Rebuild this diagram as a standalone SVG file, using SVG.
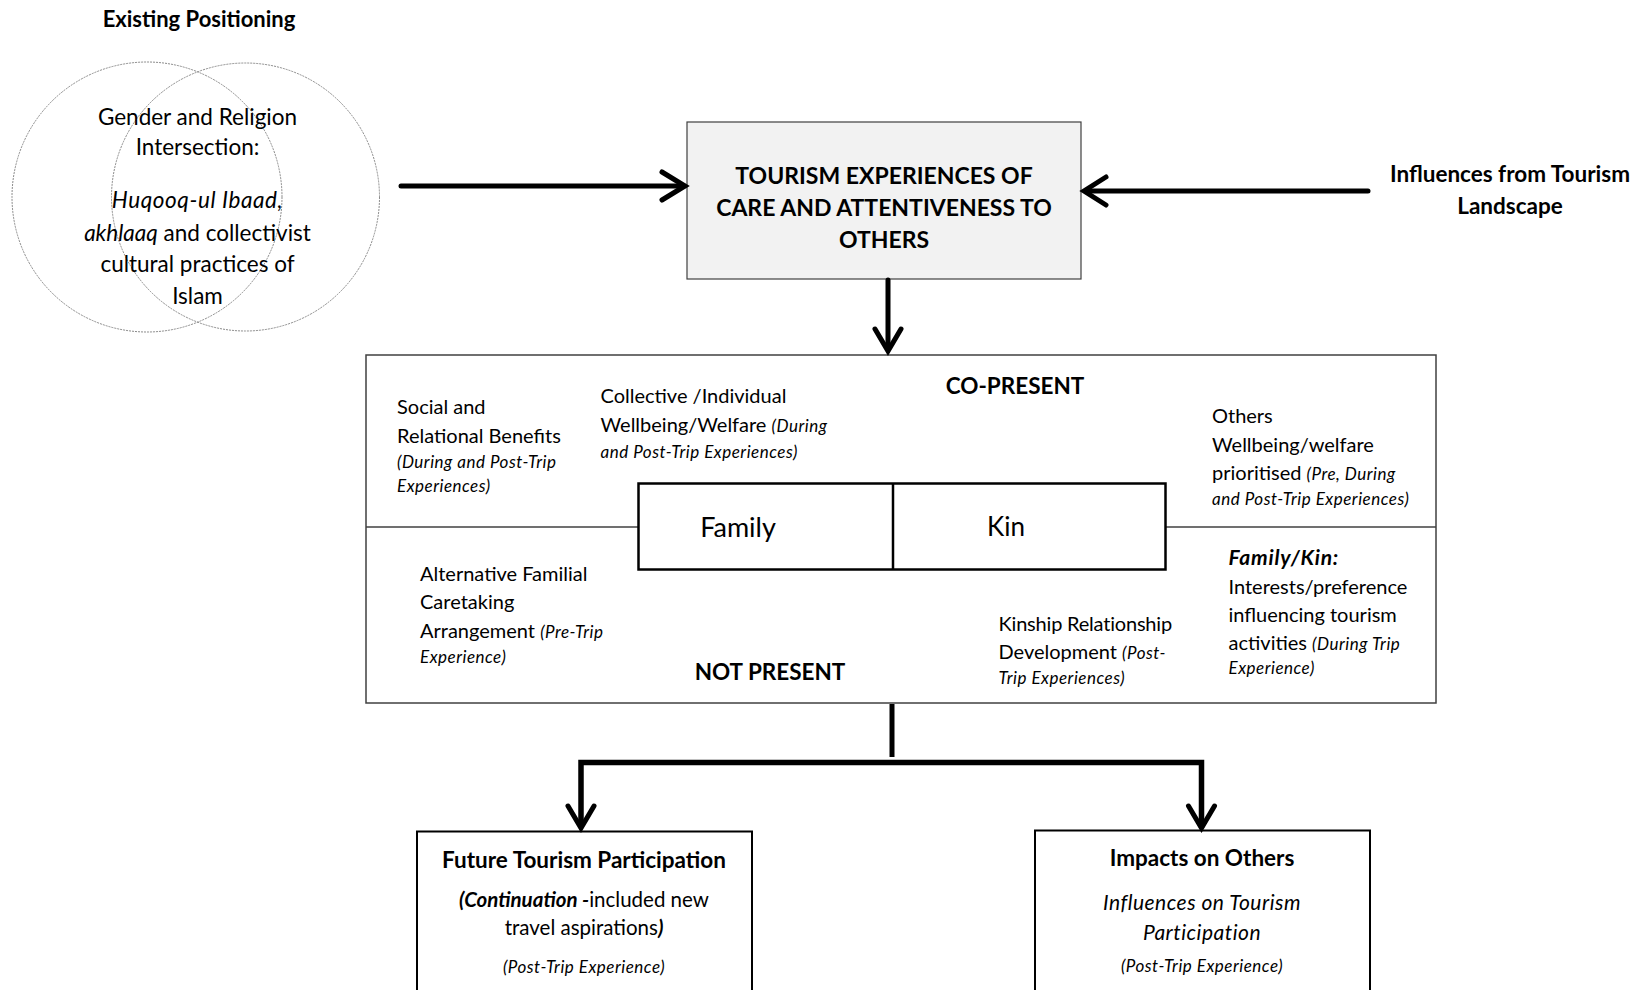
<svg xmlns="http://www.w3.org/2000/svg" width="1638" height="990" viewBox="0 0 1638 990">
  <style>
    text { font-family: Lato, "Liberation Sans", sans-serif; fill: #000; }
    .b { font-weight: bold; }
    .i { font-style: italic; }
    .c { text-anchor: middle; }
    .s22 { font-size: 22.5px; }
    .s20 { font-size: 20px; }
    .sm { font-size: 17px; font-style: italic; letter-spacing: 0.5px; }
    .conn { fill: none; stroke: #000; stroke-width: 5; stroke-linecap: round; stroke-linejoin: round; }
    .head { fill: none; stroke: #000; stroke-width: 5; stroke-linecap: round; stroke-linejoin: miter; }
  </style>

  <rect width="1638" height="990" fill="#fff"/>

  <!-- Existing positioning: overlapping circles -->
  <g id="existing-positioning">
    <text class="b c" x="199" y="27" font-size="22">Existing Positioning</text>
    <circle cx="147" cy="197" r="135" fill="none" stroke="#8a8a8a" stroke-width="1" stroke-dasharray="2 1"/>
    <circle cx="245.5" cy="197" r="134" fill="none" stroke="#8a8a8a" stroke-width="1" stroke-dasharray="2 1"/>
    <text class="c s22" x="197.5" y="124.5">Gender and Religion</text>
    <text class="c s22" x="197.5" y="154.5">Intersection:</text>
    <text class="c s22 i" x="197.5" y="207.5" letter-spacing="0.6">Huqooq-ul Ibaad,</text>
    <text class="c s22" x="197.5" y="240.5"><tspan class="i">akhlaaq</tspan> and collectivist</text>
    <text class="c s22" x="197.5" y="271.5">cultural practices of</text>
    <text class="c s22" x="197.5" y="303.5">Islam</text>
  </g>

  <!-- Central box -->
  <g id="tourism-experiences">
    <rect x="687" y="122" width="394" height="157" fill="#f2f2f2" stroke="#404040" stroke-width="1.2"/>
    <text class="b c" x="884" y="183.5" font-size="23">TOURISM EXPERIENCES OF</text>
    <text class="b c" x="884" y="215.5" font-size="23">CARE AND ATTENTIVENESS TO</text>
    <text class="b c" x="884" y="247.5" font-size="23">OTHERS</text>
  </g>

  <!-- Tourism landscape label -->
  <g id="tourism-landscape">
    <text class="b c s22" x="1510" y="181.5">Influences from Tourism</text>
    <text class="b c s22" x="1510" y="213.5">Landscape</text>
  </g>

  <!-- Co-present / not present panel -->
  <g id="presence-panel">
    <rect x="366" y="355" width="1070" height="348" fill="none" stroke="#404040" stroke-width="1.5"/>
    <line x1="366" y1="527" x2="638.5" y2="527" stroke="#404040" stroke-width="1.5"/>
    <line x1="1165.5" y1="527" x2="1436" y2="527" stroke="#404040" stroke-width="1.5"/>

    <text class="b c" x="1015" y="393.5" font-size="22.5">CO-PRESENT</text>
    <text class="b c" x="770" y="679.5" font-size="22.5">NOT PRESENT</text>

    <text class="s20" x="397" y="413.5">Social and</text>
    <text class="s20" x="397" y="442.5">Relational Benefits</text>
    <text class="sm" x="397" y="467.5">(During and Post-Trip</text>
    <text class="sm" x="397" y="491.5">Experiences)</text>

    <text class="s20" x="600.5" y="402.5">Collective /Individual</text>
    <text class="s20" x="600.5" y="431.5">Wellbeing/Welfare <tspan class="sm">(During</tspan></text>
    <text class="sm" x="600.5" y="457.5">and Post-Trip Experiences)</text>

    <text class="s20" x="1212" y="422.5">Others</text>
    <text class="s20" x="1212" y="451.5">Wellbeing/welfare</text>
    <text class="s20" x="1212" y="479.5">prioritised <tspan class="sm">(Pre, During</tspan></text>
    <text class="sm" x="1212" y="504.5">and Post-Trip Experiences)</text>

    <text class="s20" x="420" y="580.5">Alternative Familial</text>
    <text class="s20" x="420" y="608.5">Caretaking</text>
    <text class="s20" x="420" y="637.5">Arrangement <tspan class="sm">(Pre-Trip</tspan></text>
    <text class="sm" x="420" y="662.5">Experience)</text>

    <text class="s20" x="998.5" y="630.5" letter-spacing="-0.2">Kinship Relationship</text>
    <text class="s20" x="998.5" y="658.5">Development <tspan class="sm">(Post-</tspan></text>
    <text class="sm" x="998.5" y="683.5">Trip Experiences)</text>

    <text class="b i" x="1228.5" y="564.5" font-size="21" letter-spacing="0.8">Family/Kin:</text>
    <text class="s20" x="1228.5" y="593.5">Interests/preference</text>
    <text class="s20" x="1228.5" y="621.5">influencing tourism</text>
    <text class="s20" x="1228.5" y="649.5">activities <tspan class="sm">(During Trip</tspan></text>
    <text class="sm" x="1228.5" y="673.5">Experience)</text>
  </g>

  <!-- Family / Kin box -->
  <g id="family-kin">
    <rect x="638.5" y="483.5" width="527" height="86" fill="#fff" stroke="#000" stroke-width="2.5"/>
    <line x1="893" y1="483.5" x2="893" y2="569.5" stroke="#000" stroke-width="2.5"/>
    <text class="c" x="738" y="536.5" font-size="27">Family</text>
    <text class="c" x="1006" y="535.5" font-size="26">Kin</text>
  </g>

  <!-- Outcome boxes -->
  <g id="future-participation">
    <rect x="417" y="831.5" width="335" height="170" fill="#fff" stroke="#000" stroke-width="2"/>
    <text class="b c s22" x="584" y="867.5">Future Tourism Participation</text>
    <text class="c" x="584" y="906.5" font-size="20.5"><tspan class="b i">(Continuation -</tspan>included new</text>
    <text class="c" x="584" y="934.5" font-size="20.5">travel aspirations<tspan class="b i">)</tspan></text>
    <text class="c sm" x="584" y="972.5">(Post-Trip Experience)</text>
  </g>

  <g id="impacts-on-others">
    <rect x="1035" y="830.5" width="335" height="170" fill="#fff" stroke="#000" stroke-width="2"/>
    <text class="b c s22" x="1202" y="865.5">Impacts on Others</text>
    <text class="c i" x="1202" y="909.5" font-size="21" letter-spacing="0.5">Influences on Tourism</text>
    <text class="c i" x="1202" y="939.5" font-size="21" letter-spacing="0.5">Participation</text>
    <text class="c sm" x="1202" y="971.5">(Post-Trip Experience)</text>
  </g>

  <!-- Connectors -->
  <g id="connectors">
    <line class="conn" x1="401" y1="186" x2="684" y2="186"/>
    <polyline class="head" points="662,172 685,186 662,200"/>

    <line class="conn" x1="1368" y1="191" x2="1086" y2="191"/>
    <polyline class="head" points="1106,177 1084,191 1106,205"/>

    <line class="conn" x1="888" y1="280" x2="888" y2="349"/>
    <polyline class="head" points="875,329 888,351 901,329"/>

    <line x1="892" y1="704" x2="892" y2="757" stroke="#000" stroke-width="5"/>
    <polyline points="581,826 581,762.5 1201.5,762.5 1201.5,826" fill="none" stroke="#000" stroke-width="5.5" stroke-linejoin="miter"/>
    <polyline class="head" points="568,806 581,828 594,806"/>
    <polyline class="head" points="1188.5,806 1201.5,828 1214.5,806"/>
  </g>
</svg>
